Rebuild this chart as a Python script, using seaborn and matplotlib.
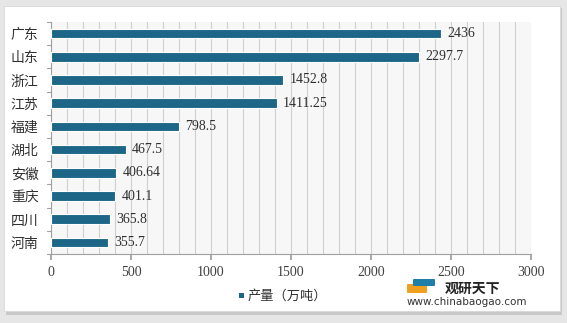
import matplotlib
matplotlib.use("Agg")
import matplotlib.pyplot as plt
import seaborn as sns
import pandas as pd
from matplotlib.patches import Rectangle, FancyBboxPatch
from matplotlib.ticker import MultipleLocator

provinces = ["广东", "山东", "浙江", "江苏", "福建", "湖北", "安徽", "重庆", "四川", "河南"]
values = [2436, 2297.7, 1452.8, 1411.25, 798.5, 467.5, 406.64, 401.1, 365.8, 355.7]
value_labels = ["2436", "2297.7", "1452.8", "1411.25", "798.5", "467.5", "406.64", "401.1", "365.8", "355.7"]
series_name = "产量（万吨）"

df = pd.DataFrame({"省份": provinces, "产量": values})

sns.set_theme(style="white")
plt.rcParams['font.family'] = ['Noto Sans CJK SC', 'DejaVu Sans']

W, H = 567, 323
fig = plt.figure(figsize=(W / 100, H / 100), dpi=100)
fig.patch.set_facecolor("#e6e6e6")

# background axes for card
bg = fig.add_axes([0, 0, 1, 1], zorder=-10)
bg.set_xlim(0, W)
bg.set_ylim(H, 0)
bg.axis("off")
bg.add_patch(Rectangle((6, 8), 556, 307, facecolor="#c8c8c8", edgecolor="none"))
bg.add_patch(Rectangle((4, 6), 556, 305, facecolor="white", edgecolor="#d8d8d8", linewidth=0.6))

ax = fig.add_axes([51 / W, 1 - 254 / H, 480 / W, 232 / H], zorder=1)
ax.set_facecolor("#f7f7f7")

bar_color = "#1d6687"
sns.barplot(data=df, y="省份", x="产量", orient="h", color=bar_color, width=0.42,
            edgecolor="white", linewidth=0.8, ax=ax, saturation=1, zorder=3)

ax.set_xlim(0, 3000)
ax.xaxis.set_major_locator(MultipleLocator(500))
ax.xaxis.set_minor_locator(MultipleLocator(100))
ax.grid(which="both", axis="x", color="#d0d0d0", linewidth=0.8, zorder=0)
ax.set_axisbelow(True)
ax.set_xlabel("")
ax.set_ylabel("")

for s in ["top", "right"]:
    ax.spines[s].set_visible(False)
for s in ["left", "bottom"]:
    ax.spines[s].set_color("#a0a0a0")
    ax.spines[s].set_linewidth(0.8)

ax.tick_params(axis="x", which="major", bottom=True, length=4, color="#a0a0a0", labelsize=10,
               labelcolor="#404040", pad=5)
ax.tick_params(axis="x", which="minor", bottom=False)
ax.tick_params(axis="y", left=False, length=0, labelsize=10, labelcolor="#303030", pad=9)
n = len(provinces)
for b in [i - 0.5 for i in range(n + 1)]:
    ax.plot([-0.008, 0], [b, b], transform=ax.get_yaxis_transform(), color="#a0a0a0",
            linewidth=0.8, clip_on=False)
ax.set_ylim(n - 0.5, -0.5)

for lab in ax.get_xticklabels():
    lab.set_family(["Liberation Serif", "DejaVu Serif"])

for i, (v, t) in enumerate(zip(values, value_labels)):
    ax.text(v + 40, i, t, va="center", ha="left", fontsize=10, color="#303030",
            family=["Liberation Serif", "DejaVu Serif"], zorder=4)

# legend
bg.add_patch(Rectangle((239, 293), 5, 5, facecolor=bar_color, edgecolor="none"))
bg.text(248, 296, series_name, fontsize=9.5, color="#303030", va="center", ha="left")

# watermark
bg.add_patch(FancyBboxPatch((408, 285), 18, 7, boxstyle="round,pad=1", facecolor="#f0a020",
                            edgecolor="none", zorder=5))
bg.add_patch(FancyBboxPatch((414, 280), 20, 5, boxstyle="round,pad=1", facecolor="#1f7fa8",
                            edgecolor="none", zorder=5))
fig.text(445 / W, 1 - 289 / H, "观研天下", fontsize=10, fontweight="bold", color="#222222",
         va="center", ha="left", zorder=6)
fig.text(407 / W, 1 - 302 / H, "www.chinabaogao.com", fontsize=7.5, color="#333333",
         va="center", ha="left", family=["DejaVu Sans"], zorder=6)

fig.savefig("out.png", dpi=100, facecolor=fig.get_facecolor())
